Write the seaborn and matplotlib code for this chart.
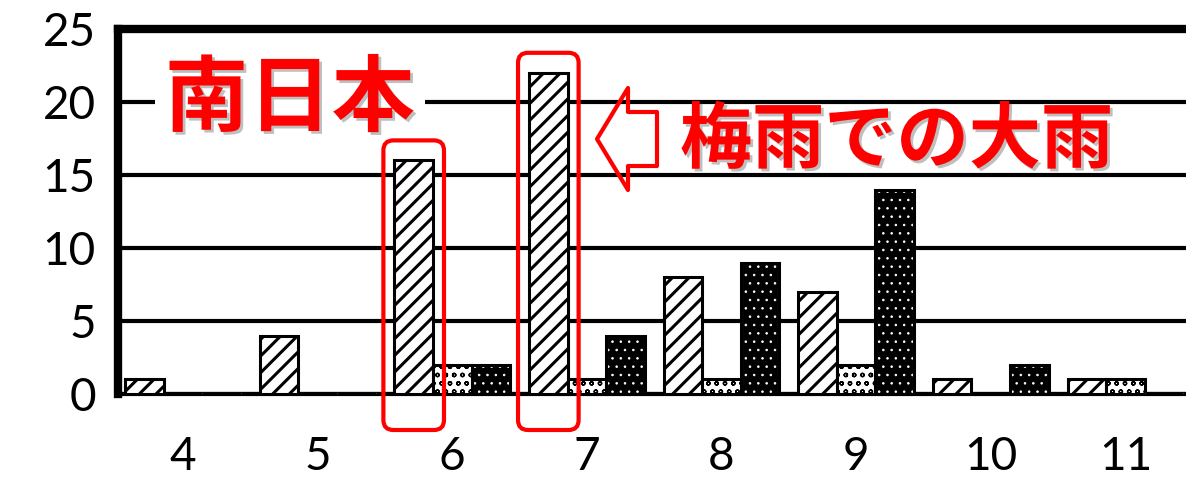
import numpy as np
import pandas as pd
import seaborn as sns
import matplotlib.pyplot as plt
from matplotlib.patches import Rectangle, FancyBboxPatch, Polygon
import matplotlib.patheffects as pe

# monthly counts, three series (hatched / light dotted / black dotted)
months = ["4", "5", "6", "7", "8", "9", "10", "11"]
series_names = ["hatched", "light", "dark"]
hatched_counts = [1, 4, 16, 22, 8, 7, 1, 1]
light_counts = [0, 0, 2, 1, 1, 2, 0, 1]
dark_counts = [0, 0, 2, 4, 9, 14, 2, 0]

df = pd.DataFrame({
    "month": months * 3,
    "count": hatched_counts + light_counts + dark_counts,
    "series": [series_names[0]] * 8 + [series_names[1]] * 8 + [series_names[2]] * 8,
})

sns.set_theme(style="white")
plt.rcParams['font.family'] = ['Lato', 'Noto Sans CJK JP', 'DejaVu Sans']
plt.rcParams['hatch.linewidth'] = 2.2

fig = plt.figure(figsize=(11.86, 4.86), dpi=100)
ax = fig.add_axes([118 / 1186, 1 - 394 / 486, (1186 - 118) / 1186, 365 / 486])

sns.barplot(data=df, x="month", y="count", hue="series", order=months,
            hue_order=series_names, palette=["white", "white", "black"],
            width=0.86, gap=0, edgecolor="black", linewidth=2.2,
            legend=False, ax=ax, zorder=3)

# patterns per series (patches come out hue by hue)
bars = list(ax.patches)
n = len(months)
for i, p in enumerate(bars):
    s = i // n
    if s == 0:
        p.set_hatch("//")
    elif s == 1:
        p.set_hatch("oo")
        if hasattr(p, "set_hatch_linewidth"):
            p.set_hatch_linewidth(1.0)
    else:
        p.set_edgecolor("white")
        p.set_hatch("..")
        if hasattr(p, "set_hatch_linewidth"):
            p.set_hatch_linewidth(0.6)
        ax.add_patch(Rectangle((p.get_x(), p.get_y()), p.get_width(), p.get_height(),
                               fill=False, edgecolor="black", lw=2.2, zorder=4))

ax.set_ylim(0, 25)
ax.set_yticks([0, 5, 10, 15, 20, 25])
ax.set_xlim(-0.483, 7.45)
ax.set_xlabel("")
ax.set_ylabel("")
ax.tick_params(axis="both", length=0, labelsize=33, colors="black")
ax.tick_params(axis="y", pad=16)
ax.tick_params(axis="x", pad=30)

ax.set_axisbelow(True)
ax.yaxis.grid(True, color="black", lw=3)
ax.spines["right"].set_visible(False)
ax.spines["left"].set_linewidth(6)
ax.spines["top"].set_linewidth(6)
ax.spines["bottom"].set_linewidth(3)
for sp in ["left", "top", "bottom"]:
    ax.spines[sp].set_color("black")

# red rounded frames around the June and July hatched bars
px_x = (7.45 + 0.483) / 1068
px_y = 25 / 365
for idx in [2, 3]:
    p = bars[idx]
    x0 = p.get_x() - 11 * px_x
    w = p.get_width() + 22 * px_x
    y0 = -36 * px_y
    top = p.get_height() + 20 * px_y
    ax.add_patch(FancyBboxPatch((x0, y0), w, top - y0,
                                boxstyle="round,pad=0,rounding_size=%f" % (10 * px_x),
                                mutation_aspect=px_y / px_x,
                                fill=False, edgecolor="#ff0000", lw=3,
                                clip_on=False, zorder=9))

shadow = [pe.SimplePatchShadow(offset=(2, -2), shadow_rgbFace="gray", alpha=0.5), pe.Normal()]
ax.text(0.161, 0.805, "南日本", transform=ax.transAxes, ha="center", va="center",
        fontsize=60, fontweight="bold", color="#ff0000", family=["Noto Sans CJK JP"],
        bbox=dict(boxstyle="square,pad=0.12", fc="white", ec="none"),
        path_effects=shadow, zorder=2.5)
ax.text(0.729, 0.693, "梅雨での大雨", transform=ax.transAxes, ha="center", va="center",
        fontsize=52, fontweight="bold", color="#ff0000", family=["Noto Sans CJK JP"],
        path_effects=shadow, zorder=7)

# hollow arrow pointing left
arrow_px = [(597, 139), (628, 88), (628, 112), (657, 112), (657, 166), (628, 166), (628, 190)]
arrow = Polygon([(x / 1186, 1 - y / 486) for x, y in arrow_px], closed=True,
                transform=fig.transFigure, fill=False, edgecolor="#ff0000",
                lw=3, joinstyle="round")
fig.patches.append(arrow)

fig.savefig("out.png", dpi=100)
